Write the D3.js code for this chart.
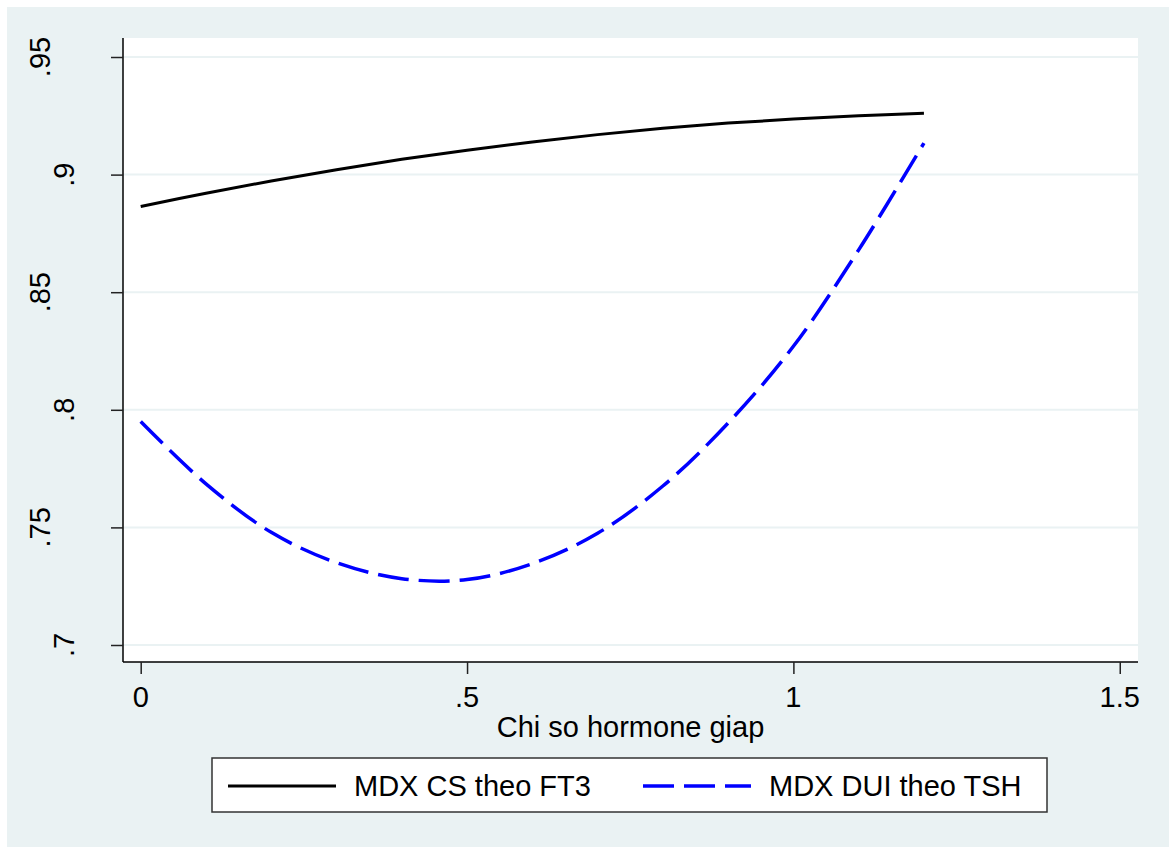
<!DOCTYPE html>
<html>
<head>
<meta charset="utf-8">
<script src="https://cdn.jsdelivr.net/npm/d3@7"></script>
<style>
  html, body { margin: 0; padding: 0; background: #fff; }
  svg { display: block; font-family: "Liberation Sans", Arial, sans-serif; }
</style>
</head>
<body>
<div id="chart"></div>
<script>
// values
const xValues = [0, 0.1, 0.2, 0.3, 0.4, 0.5, 0.6, 0.7, 0.8, 0.9, 1.0, 1.1, 1.2];
const csFT3 = [0.8864, 0.8921, 0.8973, 0.9021, 0.9065, 0.9104, 0.9139, 0.9170, 0.9197, 0.9219, 0.9236, 0.9250, 0.9261];
const duiTSH = [0.7950, 0.7685, 0.7479, 0.7350, 0.7282, 0.7278, 0.7346, 0.7475, 0.7676, 0.7944, 0.8270, 0.8680, 0.9134];

const seriesNames = ['MDX CS theo FT3', 'MDX DUI theo TSH'];
const xTicks = [0, 0.5, 1, 1.5];
const yTicks = [0.7, 0.75, 0.8, 0.85, 0.9, 0.95];
const xTitle = 'Chi so hormone giap';

const fmt = v => {
  let s = String(+v.toFixed(2));
  return s.startsWith('0.') ? s.slice(1) : s;
};

const width = 1169, height = 847;
const plot = { left: 123, right: 1138, top: 38, bottom: 662 };
const bg = '#eaf2f3';

const svg = d3.select('#chart').append('svg')
  .attr('width', width)
  .attr('height', height);

// graph region
svg.append('rect')
  .attr('x', 7).attr('y', 7)
  .attr('width', width - 7).attr('height', height - 7)
  .attr('fill', bg);

// plot region
svg.append('rect')
  .attr('x', plot.left).attr('y', plot.top)
  .attr('width', plot.right - plot.left).attr('height', plot.bottom - plot.top)
  .attr('fill', '#fff');

const x = d3.scaleLinear().domain([-0.02712, 1.52796]).range([plot.left, plot.right]);
const y = d3.scaleLinear().domain([0.69277, 0.95808]).range([plot.bottom, plot.top]);

// grid lines
svg.append('g')
  .selectAll('line')
  .data(yTicks)
  .join('line')
  .attr('x1', plot.left).attr('x2', plot.right)
  .attr('y1', d => y(d)).attr('y2', d => y(d))
  .attr('stroke', bg)
  .attr('stroke-width', 2);

// y axis
const yAxis = svg.append('g')
  .attr('transform', `translate(${plot.left},0)`)
  .call(d3.axisLeft(y).tickValues(yTicks).tickSize(12).tickSizeOuter(0).tickFormat(''));
yAxis.select('.domain').attr('stroke', '#000').attr('stroke-width', 1.5)
  .attr('d', `M0,${plot.top}V${plot.bottom}`);
yAxis.selectAll('.tick line').attr('stroke', '#222').attr('stroke-width', 1.5);

// y tick labels, rotated like the original
svg.append('g')
  .selectAll('text')
  .data(yTicks)
  .join('text')
  .attr('transform', d => {
    const lbl = fmt(d);
    const bx = 74 - (lbl.length - 2) * 24;
    return `translate(${bx},${y(d)}) rotate(-90)`;
  })
  .attr('text-anchor', 'middle')
  .attr('font-size', 29)
  .attr('fill', '#000')
  .text(d => fmt(d));

// x axis
const xAxis = svg.append('g')
  .attr('transform', `translate(0,${plot.bottom})`)
  .call(d3.axisBottom(x).tickValues(xTicks).tickSize(12).tickSizeOuter(0).tickFormat(''));
xAxis.select('.domain').attr('stroke', '#000').attr('stroke-width', 1.5)
  .attr('d', `M${plot.left},0H${plot.right}`);
xAxis.selectAll('.tick line').attr('stroke', '#222').attr('stroke-width', 1.5);

svg.append('g')
  .selectAll('text')
  .data(xTicks)
  .join('text')
  .attr('x', d => x(d))
  .attr('y', 707)
  .attr('text-anchor', 'middle')
  .attr('font-size', 29)
  .attr('fill', '#000')
  .text(d => fmt(d));

svg.append('text')
  .attr('x', (plot.left + plot.right) / 2)
  .attr('y', 737)
  .attr('text-anchor', 'middle')
  .attr('font-size', 29)
  .attr('fill', '#000')
  .text(xTitle);

// lines
const series = [
  { name: seriesNames[0], values: csFT3, color: '#000', width: 3, dash: null },
  { name: seriesNames[1], values: duiTSH, color: '#0000ff', width: 3.5, dash: '31,10' }
];

const line = d3.line()
  .x(d => x(d[0]))
  .y(d => y(d[1]))
  .curve(d3.curveCatmullRom.alpha(0.5));

svg.append('g')
  .selectAll('path')
  .data(series)
  .join('path')
  .attr('d', s => line(xValues.map((v, i) => [v, s.values[i]])))
  .attr('fill', 'none')
  .attr('stroke', s => s.color)
  .attr('stroke-width', s => s.width)
  .attr('stroke-dasharray', s => s.dash);

// legend
const legend = svg.append('g');
legend.append('rect')
  .attr('x', 212).attr('y', 758)
  .attr('width', 835).attr('height', 54)
  .attr('fill', '#fff')
  .attr('stroke', '#333')
  .attr('stroke-width', 1.5);

const items = legend.selectAll('g')
  .data(series)
  .join('g')
  .attr('transform', (d, i) => `translate(${i === 0 ? 228 : 643},786)`);

items.append('line')
  .attr('x1', 0).attr('x2', 108)
  .attr('stroke', d => d.color)
  .attr('stroke-width', d => d.width)
  .attr('stroke-dasharray', d => d.dash);

items.append('text')
  .attr('x', 126)
  .attr('y', 10)
  .attr('font-size', 29)
  .attr('fill', '#000')
  .text(d => d.name);
</script>
</body>
</html>
